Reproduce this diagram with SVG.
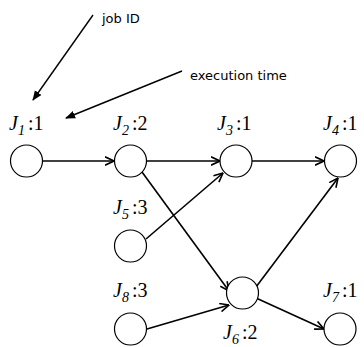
<svg xmlns="http://www.w3.org/2000/svg" width="364" height="347" viewBox="0 0 364 347">
  <style>
    .node { fill: #fff; stroke: #000; stroke-width: 1.2; }
    .edge { stroke: #000; stroke-width: 1.6; fill: none; marker-end: url(#chev); }
    .note { stroke: #000; stroke-width: 1.4; fill: none; marker-end: url(#tri); }
    .lbl { font-family: "Liberation Serif", "Times New Roman", serif; font-size: 20px; fill: #000; }
    .lbl .j { font-style: italic; }
    .lbl .sub { font-style: italic; font-size: 14px; }
    .ann { font-family: "DejaVu Sans", "Liberation Sans", sans-serif; font-size: 13px; fill: #000; }
  </style>
  <defs>
    <marker id="chev" viewBox="0 0 10 10" refX="9.5" refY="5" markerWidth="10" markerHeight="10" markerUnits="userSpaceOnUse" orient="auto">
      <path d="M0.5,0.8 L9.5,5 L0.5,9.2" fill="none" stroke="#000" stroke-width="1.6"/>
    </marker>
    <marker id="tri" viewBox="0 0 10 10" refX="9" refY="5" markerWidth="10" markerHeight="10" markerUnits="userSpaceOnUse" orient="auto">
      <path d="M0,1 L10,5 L0,9 Z" fill="#000"/>
    </marker>
  </defs>

  <!-- annotations -->
  <g id="annotations">
    <text class="ann" x="102" y="23">job ID</text>
    <text class="ann" x="190" y="80">execution time</text>
    <line class="note" x1="93" y1="15" x2="33" y2="100"/>
    <line class="note" x1="182" y1="71" x2="66" y2="118"/>
  </g>

  <!-- connectors -->
  <g id="edges">
    <line class="edge" x1="43" y1="161" x2="114" y2="161"/>
    <line class="edge" x1="147" y1="161" x2="220" y2="161"/>
    <line class="edge" x1="252" y1="161" x2="324" y2="161"/>
    <line class="edge" x1="146" y1="239" x2="223" y2="173"/>
    <line class="edge" x1="142" y1="172" x2="229" y2="291"/>
    <line class="edge" x1="256" y1="287" x2="338" y2="178"/>
    <line class="edge" x1="147" y1="329" x2="229" y2="305"/>
    <line class="edge" x1="256" y1="298" x2="324" y2="329"/>
  </g>

  <!-- nodes -->
  <g id="J1">
    <circle class="node" cx="26.5" cy="161" r="16"/>
    <text class="lbl" x="9" y="130"><tspan class="j">J</tspan><tspan class="sub" dy="5">1</tspan><tspan dy="-5" dx="3">:1</tspan></text>
  </g>
  <g id="J2">
    <circle class="node" cx="130.5" cy="161" r="16"/>
    <text class="lbl" x="113" y="130"><tspan class="j">J</tspan><tspan class="sub" dy="5">2</tspan><tspan dy="-5" dx="3">:2</tspan></text>
  </g>
  <g id="J3">
    <circle class="node" cx="236" cy="161" r="16"/>
    <text class="lbl" x="217" y="130"><tspan class="j">J</tspan><tspan class="sub" dy="5">3</tspan><tspan dy="-5" dx="3">:1</tspan></text>
  </g>
  <g id="J4">
    <circle class="node" cx="340.5" cy="161" r="16"/>
    <text class="lbl" x="323" y="130"><tspan class="j">J</tspan><tspan class="sub" dy="5">4</tspan><tspan dy="-5" dx="3">:1</tspan></text>
  </g>
  <g id="J5">
    <circle class="node" cx="130.5" cy="246" r="16"/>
    <text class="lbl" x="113" y="214"><tspan class="j">J</tspan><tspan class="sub" dy="5">5</tspan><tspan dy="-5" dx="3">:3</tspan></text>
  </g>
  <g id="J6">
    <circle class="node" cx="242.5" cy="293" r="16"/>
    <text class="lbl" x="223" y="339"><tspan class="j">J</tspan><tspan class="sub" dy="5">6</tspan><tspan dy="-5" dx="3">:2</tspan></text>
  </g>
  <g id="J7">
    <circle class="node" cx="340" cy="329" r="16"/>
    <text class="lbl" x="323" y="297"><tspan class="j">J</tspan><tspan class="sub" dy="5">7</tspan><tspan dy="-5" dx="3">:1</tspan></text>
  </g>
  <g id="J8">
    <circle class="node" cx="130.5" cy="329" r="16"/>
    <text class="lbl" x="113" y="297"><tspan class="j">J</tspan><tspan class="sub" dy="5">8</tspan><tspan dy="-5" dx="3">:3</tspan></text>
  </g>
</svg>
